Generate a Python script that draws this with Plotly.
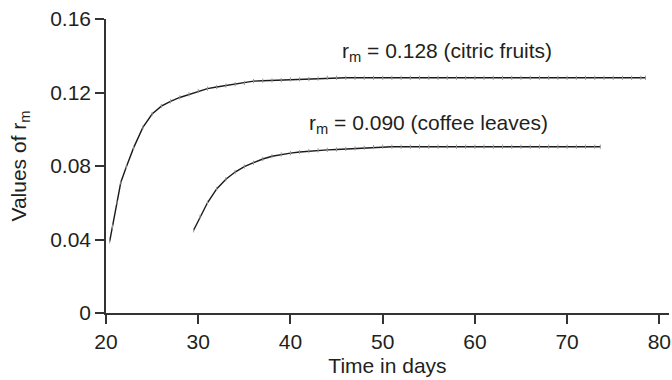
import plotly.graph_objects as go

# Citric fruits
citric_days = [20.4, 20.7, 21.2, 21.6, 22.2, 23, 24, 25, 26, 27, 28, 29, 30, 31, 32, 33, 34, 35,
               36, 37, 38, 39, 40, 41, 42, 43, 44, 45, 46, 47, 48, 49, 50, 51, 52, 53, 54, 55,
               56, 57, 58, 59, 60, 61, 62, 63, 64, 65, 66, 67, 68, 69, 70, 71, 72, 73, 74, 75,
               76, 77, 78, 78.5]
citric_rm = [0.039, 0.047, 0.060, 0.071, 0.0795, 0.090, 0.101, 0.1083, 0.1126, 0.1152, 0.1173,
             0.119, 0.1208, 0.1221, 0.123, 0.1238, 0.1245, 0.1252, 0.1262, 0.1264, 0.1266,
             0.1268, 0.1271, 0.1272, 0.1273, 0.1276, 0.128, 0.128, 0.128, 0.128, 0.128, 0.128,
             0.128, 0.128, 0.128, 0.128, 0.128, 0.128, 0.128, 0.128, 0.128, 0.128, 0.128, 0.128,
             0.128, 0.128, 0.128, 0.128, 0.128, 0.128, 0.128, 0.128, 0.128, 0.128, 0.128, 0.128,
             0.128, 0.128, 0.128, 0.128, 0.128, 0.128]

# Coffee leaves
coffee_days = [29.5, 30.2, 31, 32, 33, 34, 35, 36, 37, 38, 39, 40, 41, 42, 43, 44, 45, 46, 47,
               48, 49, 50, 51, 52, 53, 54, 55, 56, 57, 58, 59, 60, 61, 62, 63, 64, 65, 66, 67,
               68, 69, 70, 71, 72, 73, 73.6]
coffee_rm = [0.045, 0.0524, 0.060, 0.0675, 0.0728, 0.0767, 0.0797, 0.0818, 0.0838, 0.0853,
             0.0863, 0.087, 0.0876, 0.0881, 0.0885, 0.0888, 0.089, 0.0893, 0.0896, 0.0899,
             0.0903, 0.0905, 0.0905, 0.0905, 0.0905, 0.0905, 0.0905, 0.0905, 0.0905, 0.0905,
             0.0905, 0.0905, 0.0905, 0.0905, 0.0905, 0.0905, 0.0905, 0.0905, 0.0905, 0.0905,
             0.0905, 0.0905, 0.0905, 0.0905, 0.0905, 0.0905]

x_ticks = [20, 30, 40, 50, 60, 70, 80]
y_ticks = [0, 0.04, 0.08, 0.12, 0.16]
y_tick_labels = ["0", "0.04", "0.08", "0.12", "0.16"]

labels = ["r<sub>m</sub> = 0.128 (citric fruits)", "r<sub>m</sub> = 0.090 (coffee leaves)"]
label_x = [57.0, 55.0]
label_y = [0.1422, 0.1028]

FONT = "Liberation Sans, Arial, sans-serif"
TXT = "#231f20"
FS = 21

fig = go.Figure()
for xs, ys in [(citric_days, citric_rm), (coffee_days, coffee_rm)]:
    fig.add_trace(go.Scatter(
        x=xs, y=ys, mode="lines+markers",
        line=dict(color="#1a1a1a", width=1.4),
        marker=dict(symbol="line-ns", size=3, color="#999999",
                    line=dict(color="#999999", width=1)),
        showlegend=False, hoverinfo="skip"))

for t, xv, yv in zip(labels, label_x, label_y):
    fig.add_annotation(x=xv, y=yv, xref="x", yref="y", text=t, showarrow=False,
                       font=dict(family=FONT, size=FS, color=TXT))

axis_common = dict(showline=True, linecolor="#333333", linewidth=1.5, ticks="outside",
                   ticklen=9, tickwidth=1.5, tickcolor="#333333", showgrid=False,
                   zeroline=False, ticklabeloverflow="allow", automargin=False,
                   tickfont=dict(family=FONT, size=FS, color=TXT))

fig.update_xaxes(range=[20, 81.05], tickvals=x_ticks, ticktext=[str(v) for v in x_ticks],
                 title=dict(text="Time in days", font=dict(family=FONT, size=FS, color=TXT),
                            standoff=6),
                 **axis_common)
fig.update_yaxes(range=[0, 0.16], tickvals=y_ticks, ticktext=y_tick_labels,
                 title=dict(text="Values of r<sub>m</sub>", font=dict(family=FONT, size=FS, color=TXT),
                            standoff=18),
                 **axis_common)

fig.update_layout(width=672, height=380, margin=dict(l=106, r=3, t=19, b=67),
                  plot_bgcolor="white", paper_bgcolor="white",
                  font=dict(family=FONT, color=TXT))

# remove the default page margin so the figure fills the window exactly
fig.write_html("out.html", config=dict(displayModeBar=False),
               post_script="document.body.style.margin='0';")
